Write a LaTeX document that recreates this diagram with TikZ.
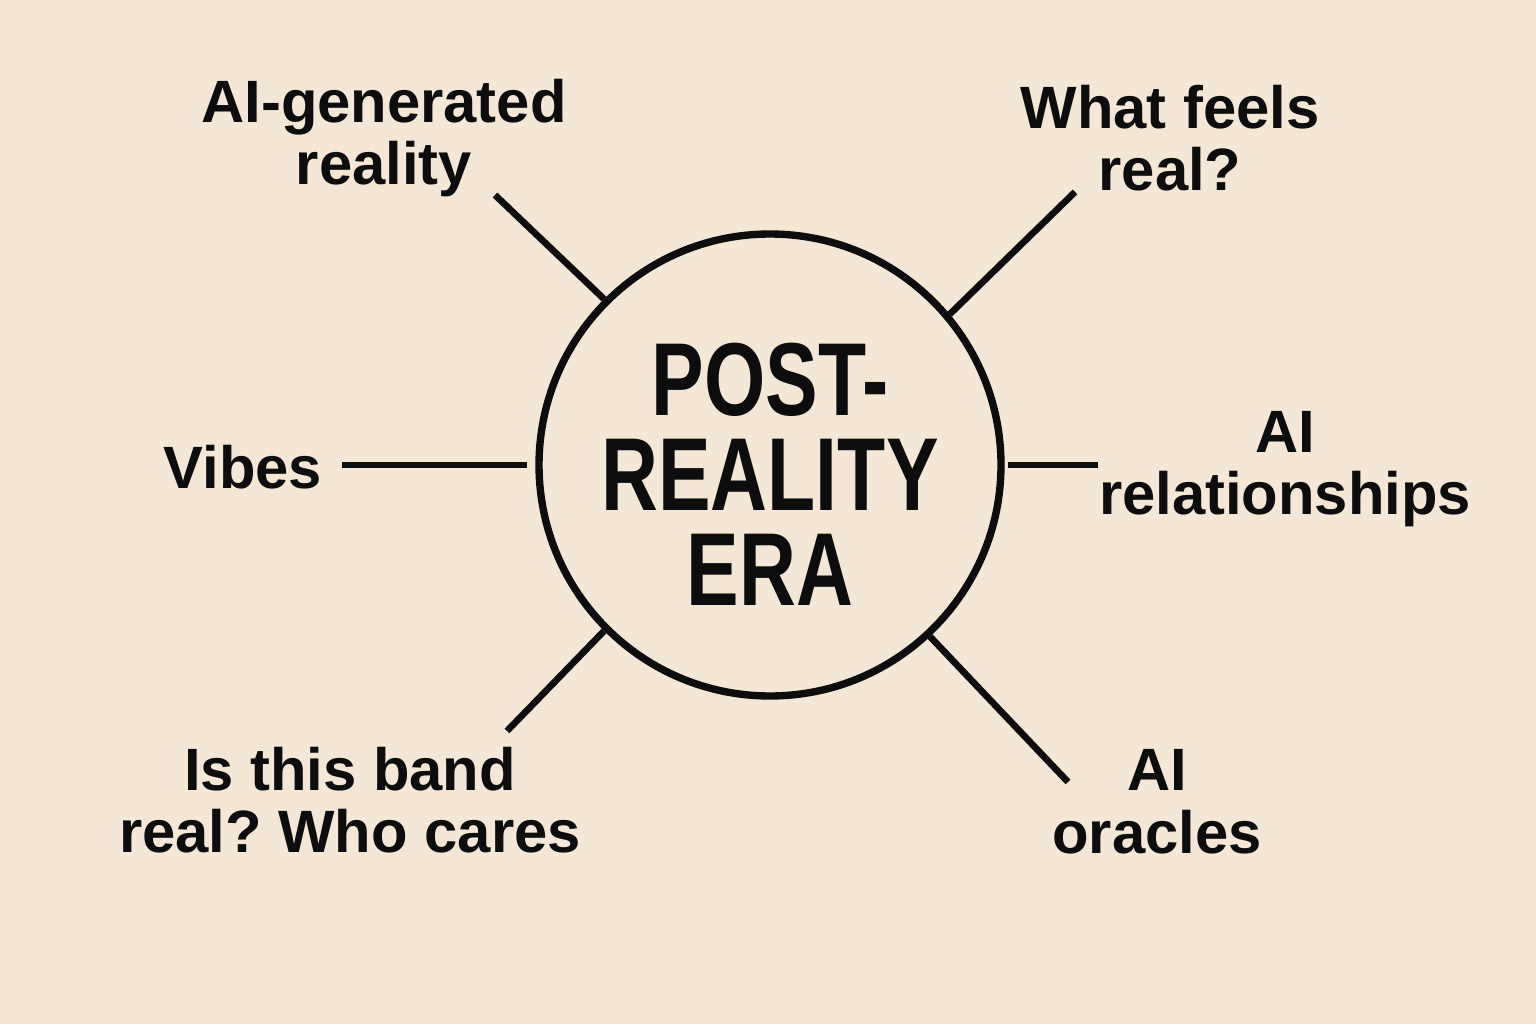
\documentclass[tikz,border=0pt]{standalone}
\usepackage{fontspec}
\setmainfont{Liberation Sans}
\newfontfamily\hubfont[FakeStretch=0.76]{Liberation Sans}
\usetikzlibrary{positioning,calc}
\definecolor{cpaper}{HTML}{F5E7D6}
\definecolor{cink}{HTML}{0D0D0D}
\frenchspacing
\tikzset{
  hub/.style={draw=cink, circle, line width=2.1pt, minimum size=46.2mm,
              inner sep=0pt, align=center, text=cink, text width=3.4cm,
              font=\hubfont\bfseries\fontsize{29.5}{27}\selectfont},
  topic/.style={align=center, inner sep=0pt, text=cink,
                font=\bfseries\fontsize{17}{17.8}\selectfont},
  spoke/.style={draw=cink, line width=1.9pt},
}
\begin{document}
\begin{tikzpicture}[x=1cm,y=1cm]
  \fill[cpaper] (0,0) rectangle (15.36,10.24);
  \useasboundingbox (0,0) rectangle (15.36,10.24);

  \node[hub] (era) at (7.70,5.59) {};
  \node[font=\hubfont\bfseries\fontsize{29.5}{27}\selectfont, text=cink,
        align=center, inner sep=0pt] (title) at (7.70,5.50) {POST-\\REALITY\\ERA};

  \node[topic] (aigen) at (3.84,8.86) {AI-generated\\reality};
  \node[topic] (feels) at (11.70,8.86) {What feels\\real?};
  \node[topic] (vibes) at (2.43,5.57) {Vibes};
  \node[topic] (rel) at (12.85,5.55) {AI\\relationships};
  \node[topic] (band) at (3.50,2.24) {Is this band\\real? Who cares};
  \node[topic] (orac) at (11.57,2.22) {AI\\oracles};

  \coordinate (aigenend) at (4.95,8.29);
  \coordinate (feelsend) at (10.75,8.32);
  \coordinate (vibesend) at (3.42,5.59);
  \coordinate (relend) at (10.98,5.59);
  \coordinate (bandend) at (5.07,2.93);
  \coordinate (oracend) at (10.68,2.42);

  \draw[spoke] (era.135) -- (aigenend);
  \draw[spoke] (era.40) -- (feelsend);
  \draw[spoke] ($(era.180)+(-0.08,0)$) -- (vibesend);
  \draw[spoke] ($(era.0)+(0.03,0)$) -- (relend);
  \draw[spoke] (era.225) -- (bandend);
  \draw[spoke] (era.-47) -- (oracend);
\end{tikzpicture}
\end{document}
